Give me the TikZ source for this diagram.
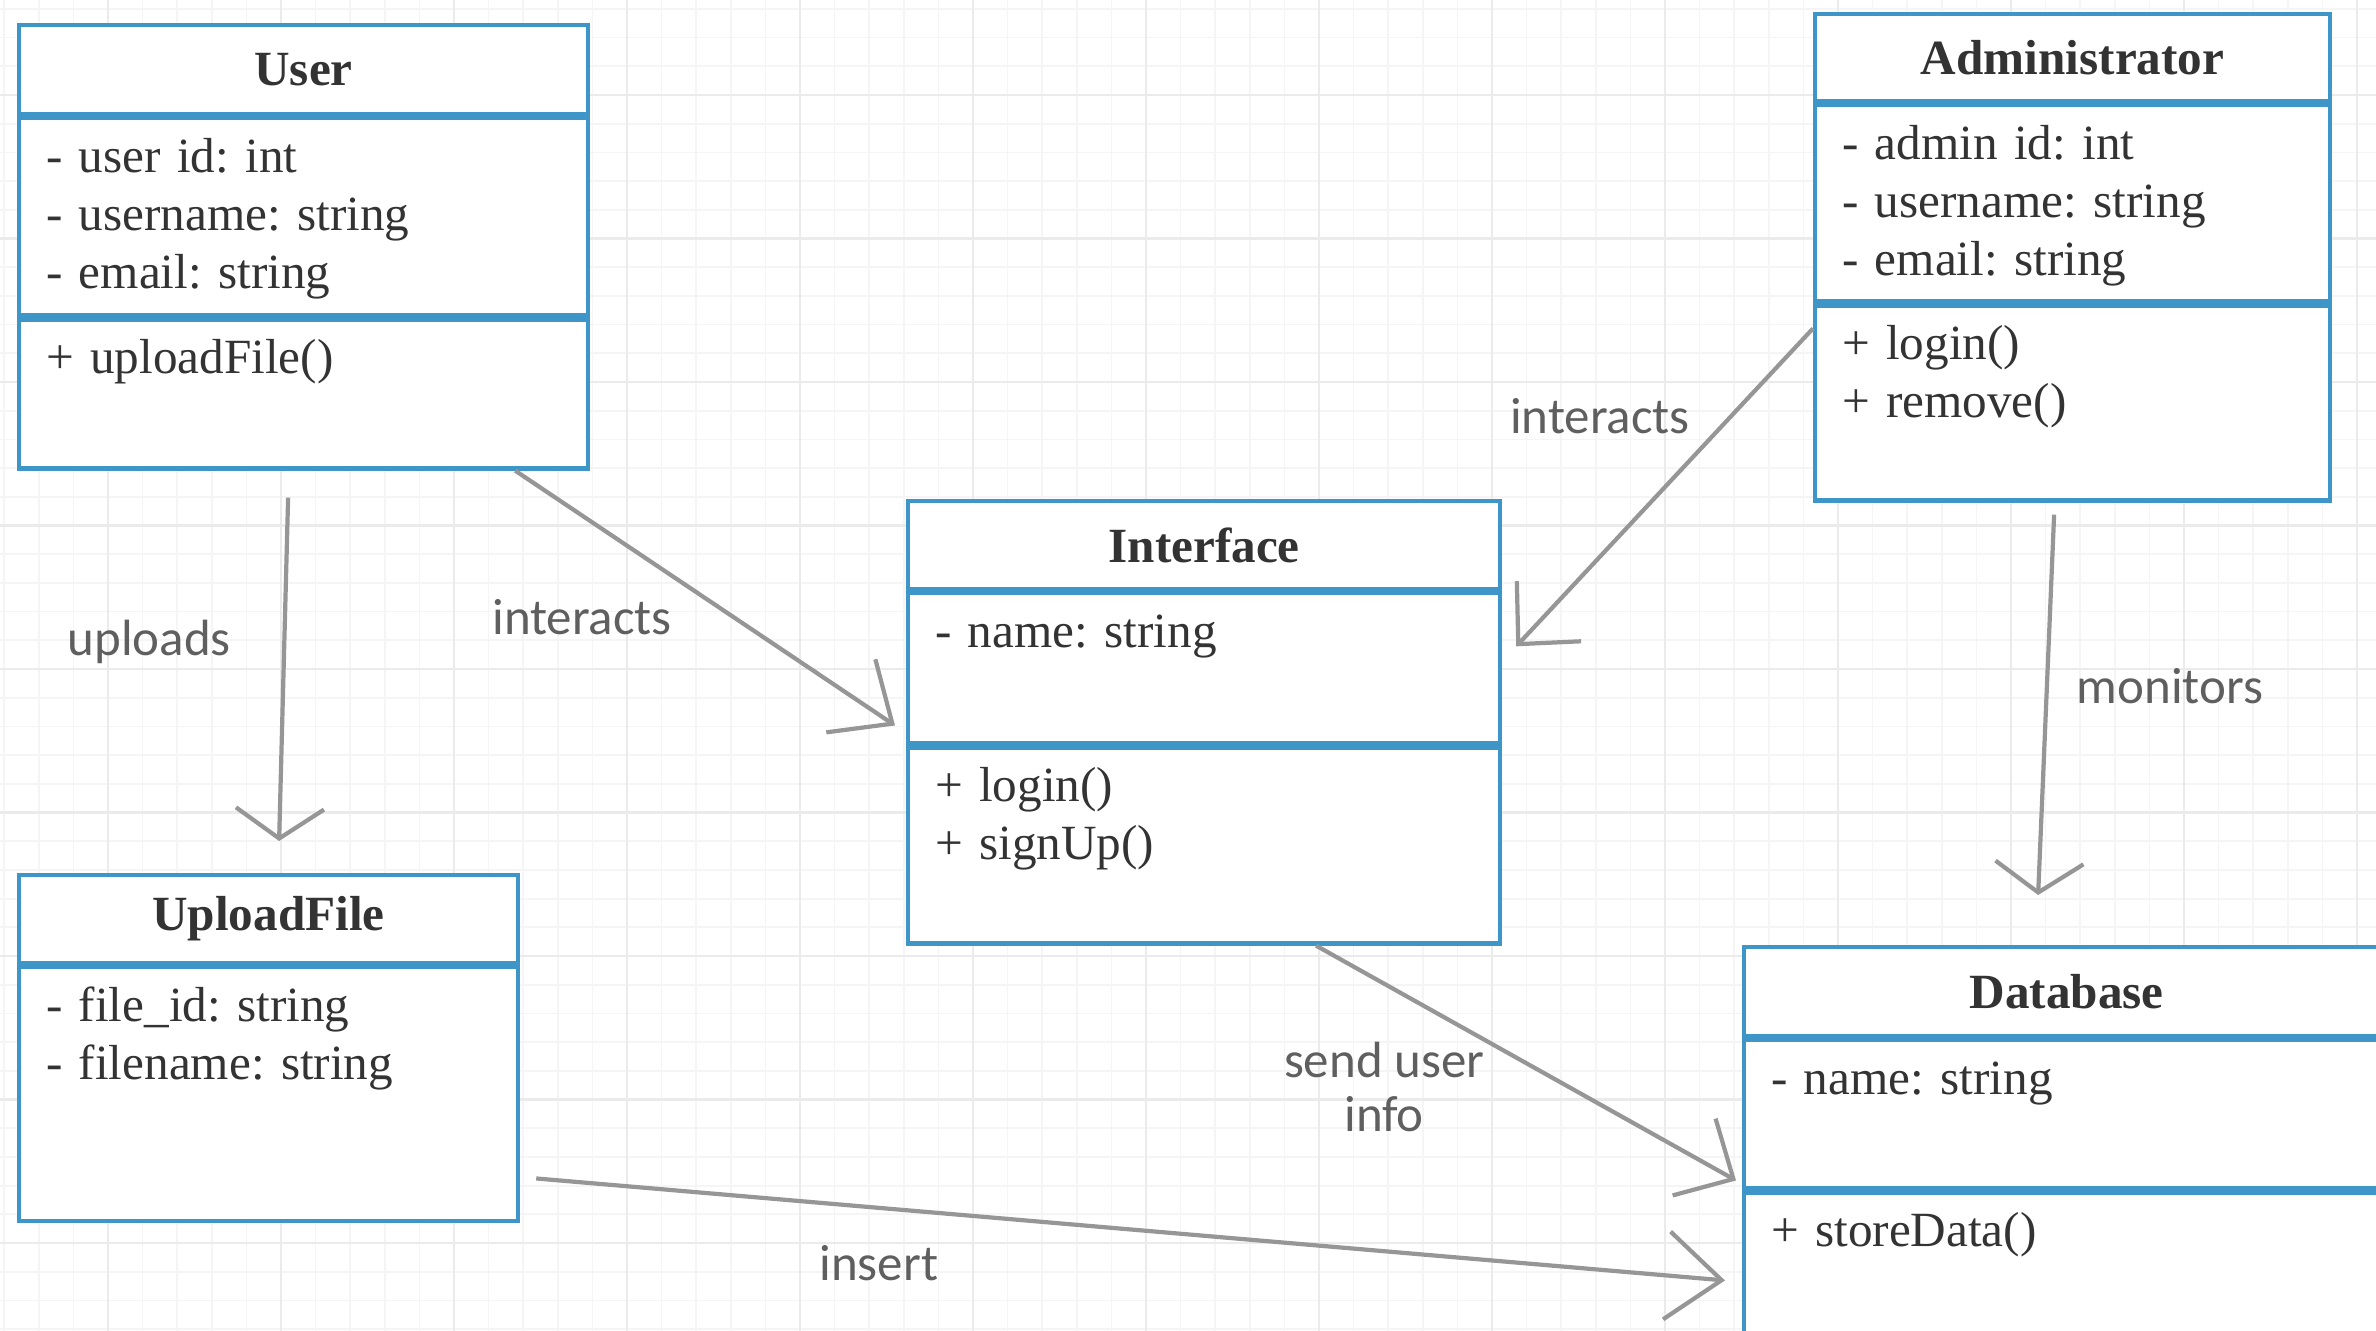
\documentclass[tikz,border=0pt]{standalone}
\usepackage{fontspec}
\setmainfont{Liberation Serif}
\newfontfamily\labelfont{Carlito}
\usepackage{tikz}
\usetikzlibrary{positioning}
\usetikzlibrary{arrows.meta}
\usepackage{xcolor}
\definecolor{umlblue}{RGB}{62,150,200}
\definecolor{linegray}{RGB}{150,150,150}
\definecolor{textgray}{RGB}{51,51,51}
\definecolor{labelgray}{RGB}{95,95,95}

\begin{document}
\begin{tikzpicture}
[% The classname style is used for the title of each class
classname/.style={draw=umlblue, line width=1.2pt, fill=white, inner sep=0pt, text=textgray, font=\fontsize{14}{16.5}\selectfont\bfseries},
% The members style is used for the attributes and the operations
members/.style={draw=umlblue, line width=1.2pt, fill=white, align=left, inner xsep=0.27cm, inner ysep=0.2cm, text height=0.34cm, text=textgray, font=\fontsize{14}{16.5}\selectfont\frenchspacing},
% The relation style is used to draw the associations
relation/.style={draw=linegray, line width=1.2pt, -{Straight Barb[length=#1, width=0.88cm]}},
% The rellabel style is used to write the associations' name
rellabel/.style={inner sep=0pt, text=labelgray, align=center, font=\labelfont\fontsize{14.5}{15.5}\selectfont},
gridminor/.style={draw=black!4, line width=0.5pt},
gridmajor/.style={draw=black!8, line width=0.6pt}
]
\useasboundingbox (0,0) rectangle (23.76,-13.30);
\clip (0,0) rectangle (23.76,-13.30);
% Draw background grid
\draw[gridminor, xstep=0.346, ystep=0.287, shift={(0.042,-0.089)}] (-0.5,0.5) grid (24.2,-13.8);
\draw[gridmajor, xstep=1.73, ystep=1.435, shift={(1.08,-0.95)}] (-2,1.5) grid (24.2,-13.8);

% Draw classes
\node [classname, minimum width=5.69cm, minimum height=0.89cm, anchor=north west] (user) at (0.17,-0.23) {User};
\node [members, below=0pt of user, text width=5.15cm, text depth=1.23cm] (user-attr) {- user id: int\\- username: string\\- email: string};
\node [members, below=0pt of user-attr, text width=5.15cm, text depth=0.75cm] (user-ops) {+ uploadFile()};

\node [classname, minimum width=5.15cm, minimum height=0.87cm, anchor=north west] (admin) at (18.13,-0.12) {Administrator};
\node [members, below=0pt of admin, text width=4.61cm, text depth=1.22cm] (admin-attr) {- admin id: int\\- username: string\\- email: string};
\node [members, below=0pt of admin-attr, text width=4.61cm, text depth=1.21cm] (admin-ops) {+ login()\\+ remove()};

\node [classname, minimum width=5.92cm, minimum height=0.88cm, anchor=north west] (iface) at (9.06,-4.99) {Interface};
\node [members, below=0pt of iface, text width=5.38cm, text depth=0.76cm] (iface-attr) {- name: string};
\node [members, below=0pt of iface-attr, text width=5.38cm, text depth=1.22cm] (iface-ops) {+ login()\\+ signUp()};

\node [classname, minimum width=4.99cm, minimum height=0.88cm, anchor=north west] (upload) at (0.17,-8.73) {UploadFile};
\node [members, below=0pt of upload, text width=4.45cm, text depth=1.80cm] (upload-attr) {- file\_id: string\\- filename: string};

\node [classname, minimum width=6.45cm, minimum height=0.89cm, anchor=north west] (db) at (17.42,-9.45) {Database};
\node [members, below=0pt of db, text width=5.91cm, text depth=0.74cm] (db-attr) {- name: string};
\node [members, below=0pt of db-attr, text width=5.91cm, text depth=1.56cm] (db-ops) {+ storeData()};

% Draw associations
\draw[relation=0.3cm] ([shift={(-0.155,-0.27)}]user-ops.south) -- ([shift={(0.105,0.32)}]upload.north) node[rellabel, pos=0.42, xshift=-1.35cm]{uploads};
\draw[relation=0.5cm] ([xshift=-0.75cm]user-ops.south east) -- ([shift={(-0.11,0.20)}]iface-ops.north west) node[rellabel, pos=0.5, shift={(-1.23,-0.19)}]{interacts};
\draw[relation=0.45cm] ([yshift=-0.25cm]admin-ops.north west) -- ([shift={(0.14,0.22)}]iface-attr.east) node[rellabel, pos=0.3, shift={(-1.24,0.08)}]{interacts};
\draw[relation=0.3cm] ([shift={(-0.185,-0.12)}]admin-ops.south) -- ([shift={(-0.285,0.50)}]db.north) node[rellabel, pos=0.45, xshift=1.23cm]{monitors};
\draw[relation=0.45cm] ([xshift=1.12cm]iface-ops.south) -- ([shift={(-0.06,0.10)}]db-ops.north west) node[rellabel, pos=0.3, shift={(-0.58,-0.71)}]{send user\\info};
\draw[relation=0.55cm] ([shift={(0.16,0.45)}]upload-attr.south east) -- ([shift={(-0.17,-0.90)}]db-ops.north west) node[rellabel, pos=0.3, shift={(-0.14,-0.54)}]{insert};
\end{tikzpicture}
\end{document}
